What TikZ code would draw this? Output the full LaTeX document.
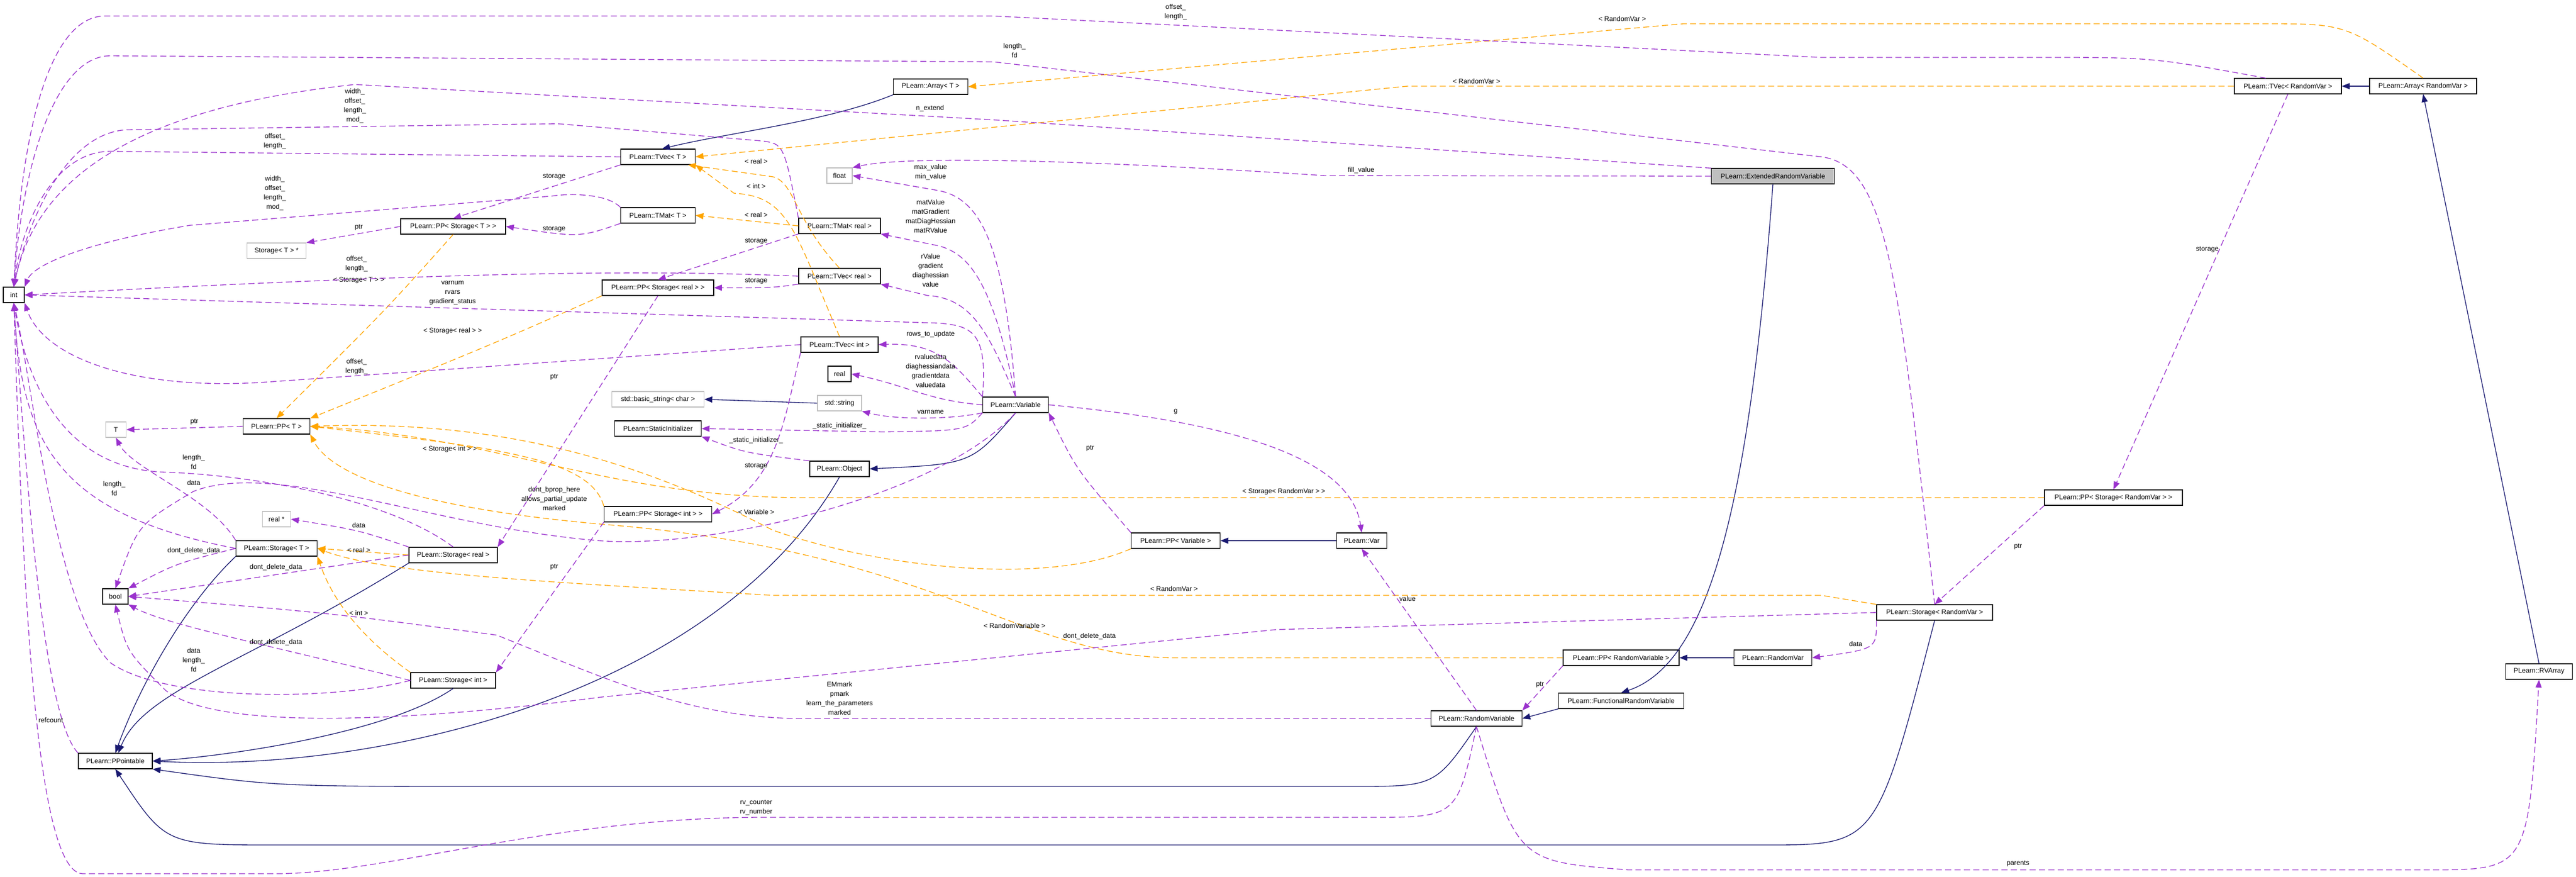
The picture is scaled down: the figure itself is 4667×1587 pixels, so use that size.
\documentclass[tikz,border=0pt]{standalone}
\usepackage{fontspec}
\setmainfont{Liberation Sans}
\usetikzlibrary{arrows.meta}
\definecolor{mpurp}{HTML}{9A32CD}
\definecolor{morange}{HTML}{FFA500}
\definecolor{mnavy}{HTML}{191970}
\definecolor{mgray}{HTML}{BFBFBF}
\begin{document}
\begin{tikzpicture}[x=0.3mm,y=-0.3mm,
  every node/.style={font=\fontsize{10.5}{14.5}\selectfont},
  box/.style={draw=black,line width=0.35mm,fill=white,minimum height=8.4mm,inner sep=0pt,minimum width=#1*0.3mm},
  gbox/.style={box=#1,draw=mgray},
  lbl/.style={align=center,inner sep=0pt},
  tip/.style={-{Triangle[length=4.3mm,width=3.3mm]}},
  mem/.style={tip,draw=mpurp,line width=0.4mm,dash pattern=on 3.3mm off 1.8mm},
  tmpl/.style={tip,draw=morange,line width=0.4mm,dash pattern=on 3.3mm off 1.8mm},
  inh/.style={tip,draw=mnavy,line width=0.4mm}]
\useasboundingbox (0,0) rectangle (4667,1587);
% nodes
\node[box=38] (int) at (25,534) {int};
\node[box=135] (arrT) at (1686,157) {PLearn::Array< T >};
\node[box=135] (tvT) at (1192,284) {PLearn::TVec< T >};
\node[box=135] (tmT) at (1192,390) {PLearn::TMat< T >};
\node[box=190] (ppsT) at (821,410) {PLearn::PP< Storage< T > >};
\node[gbox=107] (sTstar) at (501,454) {Storage< T > *};
\node[box=148] (tmR) at (1521,409) {PLearn::TMat< real >};
\node[box=148] (tvR) at (1521,500) {PLearn::TVec< real >};
\node[box=202] (ppsR) at (1192,521) {PLearn::PP< Storage< real > >};
\node[box=140] (tvI) at (1521,624) {PLearn::TVec< int >};
\node[gbox=46] (float) at (1521,318) {float};
\node[box=42] (real) at (1521,677) {real};
\node[gbox=167] (bstr) at (1192,723) {std::basic\_string< char >};
\node[gbox=80] (str) at (1521,730) {std::string};
\node[box=119] (var) at (1840,733) {PLearn::Variable};
\node[box=157] (sinit) at (1192,776) {PLearn::StaticInitializer};
\node[gbox=37] (T) at (210,778) {T};
\node[box=121] (ppT) at (501,772) {PLearn::PP< T >};
\node[box=108] (obj) at (1521,849) {PLearn::Object};
\node[box=195] (ppsI) at (1192,931) {PLearn::PP< Storage< int > >};
\node[gbox=51] (realp) at (501,940) {real *};
\node[box=147] (sT) at (501,993) {PLearn::Storage< T >};
\node[box=160] (sR) at (821,1005) {PLearn::Storage< real >};
\node[box=46] (bool) at (209,1080) {bool};
\node[box=154] (sI) at (821,1232) {PLearn::Storage< int >};
\node[box=134] (ppo) at (209,1378) {PLearn::PPointable};
\node[box=223,fill=mgray] (erv) at (3212,319) {PLearn::ExtendedRandomVariable};
\node[box=161] (ppV) at (2130,979) {PLearn::PP< Variable >};
\node[box=91] (Var) at (2467,979) {PLearn::Var};
\node[box=210] (ppRV) at (2937,1191) {PLearn::PP< RandomVariable >};
\node[box=141] (rvar) at (3212,1191) {PLearn::RandomVar};
\node[box=227] (frv) at (2937,1269) {PLearn::FunctionalRandomVariable};
\node[box=165] (rv) at (2675,1301) {PLearn::RandomVariable};
\node[box=194] (tvRV) at (4145,156) {PLearn::TVec< RandomVar >};
\node[box=194] (arRV) at (4390,156) {PLearn::Array< RandomVar >};
\node[box=250] (ppsRV) at (3829,901) {PLearn::PP< Storage< RandomVar > >};
\node[box=210] (sRV) at (3505,1109) {PLearn::Storage< RandomVar >};
\node[box=121] (rva) at (4600,1216) {PLearn::RVArray};
% inheritance
\draw[inh] (arrT.south west) .. controls (1500,220) and (1320,240) .. (tvT.63);
\draw[inh] (arRV.west) -- (tvRV.east);
\draw[inh] (rva.north) -- (arRV.south);
\draw[inh] (str.west) -- (bstr.east);
\draw[inh] (var.south) .. controls (1760,840) .. (obj.east);
\draw[inh] (obj.south) .. controls (1300,1250) and (700,1400) .. (ppo.east);
\draw[inh] (sT.south west) .. controls (330,1100) and (250,1250) .. (ppo.north);
\draw[inh] (sR.south west) .. controls (450,1200) and (260,1250) .. (ppo.70);
\draw[inh] (sI.south) .. controls (700,1330) and (400,1370) .. (ppo.east);
\draw[inh] (rv.south) .. controls (2600,1424) .. (2450,1424) -- (900,1424) .. controls (500,1424) .. (ppo.south east);
\draw[inh] (sRV.south) .. controls (3400,1530) .. (3200,1530) -- (500,1530) .. controls (300,1530) .. (ppo.south);
\draw[inh] (Var.west) -- (ppV.east);
\draw[inh] (rvar.west) -- (ppRV.east);
\draw[inh] (frv.south west) -- (rv.east);
\draw[inh] (erv.south) .. controls (3170,900) and (3100,1200) .. (frv.north);
% templates
\draw[tmpl] (arRV.north) .. controls (4250,43) .. (4100,43) -- (3050,43) -- (arrT.east);
\node[lbl] at (2939,34) {< RandomVar >};
\draw[tmpl] (tvRV.west) -- (2550,156) -- (tvT.east);
\node[lbl] at (2675,147) {< RandomVar >};
\draw[tmpl] (tvR.north) .. controls (1440,400) and (1440,330) .. (1400,320) -- (tvT.-15);
\node[lbl] at (1370,292) {< real >};
\draw[tmpl] (tvI.north) .. controls (1440,420) and (1430,355) .. (1330,350) -- (tvT.south east);
\node[lbl] at (1370,337) {< int >};
\draw[tmpl] (tmR.west) -- (tmT.east);
\node[lbl] at (1370,389) {< real >};
\draw[tmpl] (ppsT.south) .. controls (700,560) .. (ppT.north);
\node[lbl] at (650,507) {< Storage< T > >};
\draw[tmpl] (ppsR.south west) .. controls (900,620) .. (ppT.north east);
\node[lbl] at (820,599) {< Storage< real > >};
\draw[tmpl] (ppsI.north west) .. controls (1070,830) and (900,810) .. (ppT.east);
\node[lbl] at (815,813) {< Storage< int > >};
\draw[tmpl] (ppV.south west) .. controls (1900,1060) and (1600,1030) .. (1400,960) .. controls (1150,830) and (900,760) .. (ppT.east);
\node[lbl] at (1370,927) {< Variable >};
\draw[tmpl] (ppsRV.west) -- (1450,901) .. controls (1100,900) and (900,790) .. (ppT.east);
\node[lbl] at (2326,890) {< Storage< RandomVar > >};
\draw[tmpl] (ppRV.west) -- (2130,1191) .. controls (1850,1191) and (1700,1000) .. (1100,950) .. controls (750,920) and (600,860) .. (ppT.south east);
\node[lbl] at (1838,1133) {< RandomVariable >};
\draw[tmpl] (sR.west) -- (sT.east);
\node[lbl] at (650,996) {< real >};
\draw[tmpl] (sI.north west) .. controls (620,1130) and (590,1050) .. (sT.south east);
\node[lbl] at (650,1110) {< int >};
\draw[tmpl] (sRV.north west) -- (3300,1078) -- (1400,1078) .. controls (1000,1054) and (700,1040) .. (sT.east);
\node[lbl] at (2127,1066) {< RandomVar >};
% members
\draw[mem] (tvRV.160) .. controls (3900,104) .. (3700,104) -- (3300,104) -- (1800,29) -- (190,29) .. controls (100,29) and (40,200) .. (int.north);
\node[lbl] at (2130,22) {offset\_\\length\_};
\draw[mem] (sRV.north) .. controls (3440,500) and (3420,300) .. (3300,284) -- (1800,112) -- (200,101) .. controls (100,101) and (40,300) .. (int.north);
\node[lbl] at (1838,92) {length\_\\fd};
\draw[mem] (erv.north west) -- (1800,217) -- (643,153) .. controls (200,200) and (60,350) .. (int.north);
\node[lbl] at (1685,196) {n\_extend};
\draw[mem] (tmR.north west) .. controls (1420,260) .. (1378,255) -- (1010,224) -- (230,235) .. controls (120,240) and (50,400) .. (int.north);
\node[lbl] at (643,192) {width\_\\offset\_\\length\_\\mod\_};
\draw[mem] (tvT.west) -- (200,274) .. controls (100,274) and (40,400) .. (int.north);
\node[lbl] at (498,256) {offset\_\\length\_};
\draw[mem] (tmT.north west) .. controls (1100,350) and (1030,350) .. (1000,355) -- (344,408) .. controls (150,440) and (60,480) .. (int.north east);
\node[lbl] at (498,350) {width\_\\offset\_\\length\_\\mod\_};
\draw[mem] (tvT.south west) -- (ppsT.north);
\node[lbl] at (1004,320) {storage};
\draw[mem] (tmT.south west) .. controls (1050,430) .. (ppsT.east);
\node[lbl] at (1004,415) {storage};
\draw[mem] (ppsT.west) -- (sTstar.north east);
\node[lbl] at (650,412) {ptr};
\draw[mem] (tvR.west) .. controls (1200,490) and (900,488) .. (int.east);
\node[lbl] at (646,478) {offset\_\\length\_};
\draw[mem] (tmR.south west) -- (ppsR.north);
\node[lbl] at (1370,437) {storage};
\draw[mem] (tvR.south west) .. controls (1400,521) .. (ppsR.east);
\node[lbl] at (1370,509) {storage};
\draw[mem] (var.north west) .. controls (1790,600) and (1760,590) .. (1700,585) -- (int.east);
\node[lbl] at (820,530) {varnum\\rvars\\gradient\_status};
\draw[mem] (tvI.west) -- (494,691) .. controls (250,710) and (80,650) .. (int.south east);
\node[lbl] at (646,664) {offset\_\\length\_};
\draw[mem] (ppsR.south) -- (sR.north east);
\node[lbl] at (1004,683) {ptr};
\draw[mem] (erv.west) -- (2400,318) .. controls (2000,292) and (1650,280) .. (float.north east);
\node[lbl] at (2466,308) {fill\_value};
\draw[mem] (var.north) .. controls (1820,450) and (1780,360) .. (1700,345) -- (float.east);
\node[lbl] at (1686,312) {max\_value\\min\_value};
\draw[mem] (var.north) .. controls (1800,520) and (1760,460) .. (1700,445) -- (tmR.south east);
\node[lbl] at (1686,392) {matValue\\matGradient\\matDiagHessian\\matRValue};
\draw[mem] (var.north) .. controls (1790,600) and (1760,540) .. (1680,535) -- (tvR.south east);
\node[lbl] at (1686,490) {rValue\\gradient\\diaghessian\\value};
\draw[mem] (var.north west) .. controls (1730,660) and (1700,620) .. (tvI.east);
\node[lbl] at (1686,605) {rows\_to\_update};
\draw[mem] (var.west) .. controls (1680,725) and (1650,700) .. (real.east);
\node[lbl] at (1686,672) {rvaluedata\\diaghessiandata\\gradientdata\\valuedata};
\draw[mem] (var.south west) .. controls (1720,760) and (1620,760) .. (str.south east);
\node[lbl] at (1686,746) {varname};
\draw[mem] (var.south west) .. controls (1750,780) .. (1600,782) -- (sinit.east);
\node[lbl] at (1521,771) {\_static\_initializer\_};
\draw[mem] (obj.north west) .. controls (1350,820) .. (sinit.south east);
\node[lbl] at (1370,797) {\_static\_initializer\_};
\draw[mem] (tvI.south west) .. controls (1420,760) and (1410,870) .. (ppsI.east);
\node[lbl] at (1370,844) {storage};
\draw[mem] (ppsI.south west) -- (sI.north east);
\node[lbl] at (1004,1027) {ptr};
\draw[mem] (ppT.west) -- (T.east);
\node[lbl] at (352,764) {ptr};
\draw[mem] (sT.north west) .. controls (380,900) and (240,850) .. (T.south);
\node[lbl] at (351,874) {data};
\draw[mem] (sT.west) .. controls (100,930) and (40,800) .. (int.south);
\node[lbl] at (207,885) {length\_\\fd};
\draw[mem] (sR.north) .. controls (700,900) and (450,860) .. (300,855) .. controls (120,850) and (50,700) .. (int.south);
\node[lbl] at (351,837) {length\_\\fd};
\draw[mem] (sR.north west) .. controls (650,960) .. (realp.east);
\node[lbl] at (650,951) {data};
\draw[mem] (sT.west) .. controls (320,1020) .. (bool.north east);
\node[lbl] at (351,997) {dont\_delete\_data};
\draw[mem] (sR.west) -- (bool.east);
\node[lbl] at (500,1027) {dont\_delete\_data};
\draw[mem] (sI.west) .. controls (450,1160) and (300,1130) .. (bool.south east);
\node[lbl] at (500,1163) {dont\_delete\_data};
\draw[mem] (sI.west) .. controls (600,1270) and (300,1270) .. (200,1200) .. controls (100,1100) and (60,700) .. (int.south);
\node[lbl] at (351,1195) {data\\length\_\\fd};
\draw[mem] (var.south) .. controls (1700,900) and (1300,990) .. (1100,980) .. controls (800,960) and (500,830) .. (350,890) .. controls (250,950) .. (bool.north);
\node[lbl] at (1004,903) {dont\_bprop\_here\\allows\_partial\_update\\marked};
\draw[mem] (rv.west) -- (1450,1301) .. controls (1250,1300) and (1100,1230) .. (900,1150) .. controls (600,1110) .. (bool.east);
\node[lbl] at (1521,1265) {EMmark\\pmark\\learn\_the\_parameters\\marked};
\draw[mem] (sRV.west) -- (2312,1140) -- (1091,1262) .. controls (800,1300) and (400,1330) .. (300,1250) .. controls (230,1180) .. (bool.south);
\node[lbl] at (1974,1152) {dont\_delete\_data};
\draw[mem] (var.east) .. controls (2300,770) and (2450,850) .. (Var.north);
\node[lbl] at (2130,745) {g};
\draw[mem] (ppV.north west) .. controls (1950,850) .. (var.south east);
\node[lbl] at (1975,812) {ptr};
\draw[mem] (rv.north) -- (Var.south);
\node[lbl] at (2550,1084) {value};
\draw[mem] (ppRV.south west) -- (rv.north east);
\node[lbl] at (2790,1240) {ptr};
\draw[mem] (rv.south) .. controls (2640,1480) .. (2480,1480) -- (1380,1480) .. controls (1000,1480) and (700,1582) .. (500,1582) -- (150,1582) .. controls (60,1582) and (40,1000) .. (int.south);
\node[lbl] at (1370,1462) {rv\_counter\\rv\_number};
\draw[mem] (ppo.north west) .. controls (80,1300) and (50,900) .. (int.south);
\node[lbl] at (92,1304) {refcount};
\draw[mem] (rv.south) .. controls (2750,1560) .. (2950,1575) -- (4400,1575) .. controls (4580,1575) .. (rva.south);
\node[lbl] at (3656,1564) {parents};
\draw[mem] (tvRV.south) -- (ppsRV.north);
\node[lbl] at (3999,452) {storage};
\draw[mem] (ppsRV.south west) -- (sRV.north);
\node[lbl] at (3656,990) {ptr};
\draw[mem] (sRV.south west) .. controls (3400,1175) .. (rvar.east);
\node[lbl] at (3362,1166) {data};
\end{tikzpicture}
\end{document}
